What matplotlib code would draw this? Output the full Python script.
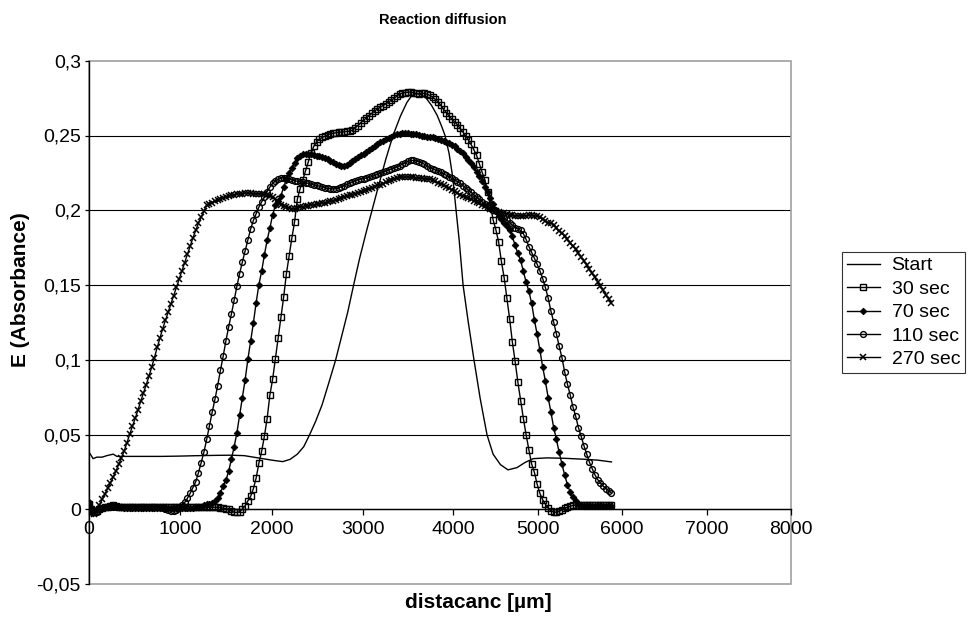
import numpy as np
import matplotlib.pyplot as plt
from matplotlib.patches import Rectangle

plt.rcParams['font.family'] = ['Liberation Sans', 'DejaVu Sans']

########################################################################
# data (distance in um, absorbance)

# x of the marker series: evenly spaced up to 3000 um, then read marker by marker
dist = list(range(0, 3000, 30)) + [
    3005, 3035, 3066, 3097, 3127, 3158, 3189, 3220, 3250, 3281,
    3312, 3342, 3373, 3404, 3434, 3465, 3496, 3526, 3557, 3588,
    3618, 3649, 3680, 3710, 3741, 3772, 3802, 3833, 3864, 3894,
    3925, 3956, 3987, 4018, 4051, 4083, 4116, 4149, 4181, 4214,
    4246, 4279, 4311, 4344, 4377, 4409, 4442, 4474, 4507, 4539,
    4572, 4605, 4637, 4670, 4702, 4735, 4767, 4800, 4833, 4865,
    4898, 4930, 4963, 4995, 5028, 5061, 5093, 5126, 5158, 5191,
    5223, 5256, 5289, 5321, 5354, 5386, 5419, 5451, 5484, 5517,
    5549, 5582, 5614, 5647, 5679, 5712, 5745, 5777, 5810, 5842,
    5875]

start_x = [0, 50, 90, 150, 200, 270, 310, 400, 600, 800,
           1000, 1200, 1400, 1550, 1700, 1850, 2000, 2120, 2200, 2280,
           2350, 2414, 2480, 2550, 2620, 2698, 2760, 2830, 2894, 2960,
           3035, 3097, 3168, 3250, 3331, 3414, 3485, 3537, 3588, 3639,
           3700, 3762, 3823, 3874, 3911, 3956, 3997, 4036, 4073, 4119,
           4181, 4248, 4322, 4402, 4474, 4561, 4650, 4757, 4854, 4950,
           5115, 5332, 5549, 5712, 5875]
start_y = [0.039, 0.034, 0.035, 0.035, 0.036, 0.037, 0.0355, 0.0355, 0.0355, 0.0355,
           0.0357, 0.036, 0.0362, 0.0363, 0.036, 0.0345, 0.033, 0.032, 0.0335, 0.037,
           0.042, 0.05, 0.059, 0.07, 0.084, 0.1, 0.115, 0.132, 0.15, 0.168,
           0.186, 0.2, 0.216, 0.234, 0.25, 0.263, 0.272, 0.2765, 0.278, 0.2775,
           0.275, 0.27, 0.2635, 0.256, 0.25, 0.238, 0.222, 0.2, 0.18, 0.15,
           0.125, 0.1, 0.074, 0.05, 0.037, 0.03, 0.0265, 0.028, 0.0315, 0.034,
           0.0345, 0.0342, 0.0336, 0.033, 0.0318]

sec30 = [0.004, 0.0, -0.002, -0.001, 0.0005, 0.001, 0.0015, 0.002, 0.0025, 0.003,
         0.0025, 0.002, 0.0015, 0.0015, 0.0015, 0.0015, 0.0015, 0.0015, 0.0015, 0.0015,
         0.0015, 0.0015, 0.0015, 0.0015, 0.0015, 0.0015, 0.0015, 0.0015, 0.0015, 0.0015,
         0.0015, 0.0015, 0.0015, 0.0015, 0.0015, 0.0015, 0.0015, 0.0015, 0.0015, 0.0015,
         0.0015, 0.0015, 0.0015, 0.0015, 0.0015, 0.0015, 0.0015, 0.0015, 0.0012, 0.001,
         0.0005, 0.0, -0.001, -0.0018, -0.002, -0.0015, 0.0003, 0.0025, 0.0058, 0.0088,
         0.014, 0.021, 0.031, 0.0388, 0.049, 0.0608, 0.0765, 0.0871, 0.1007, 0.1145,
         0.1284, 0.1418, 0.1575, 0.1695, 0.1815, 0.1925, 0.2075, 0.2145, 0.2205, 0.2265,
         0.2325, 0.2385, 0.2428, 0.2457, 0.2475, 0.2487, 0.2495, 0.2505, 0.2512, 0.2515,
         0.2518, 0.2521, 0.2523, 0.2525, 0.2527, 0.2529, 0.2535, 0.255, 0.2566, 0.2584,
         0.2603, 0.2618, 0.2633, 0.2649, 0.2664, 0.2677, 0.2689, 0.27, 0.2711, 0.2723,
         0.2735, 0.2748, 0.2763, 0.2777, 0.2783, 0.2787, 0.2789, 0.279, 0.2786, 0.2781,
         0.278, 0.2782, 0.2781, 0.2776, 0.2768, 0.2757, 0.2742, 0.2724, 0.2702, 0.2676,
         0.2653, 0.263, 0.261, 0.2592, 0.2572, 0.2548, 0.2523, 0.2499, 0.2471, 0.244,
         0.2405, 0.2367, 0.2312, 0.2255, 0.2204, 0.2122, 0.2035, 0.1937, 0.187, 0.179,
         0.166, 0.155, 0.1415, 0.1275, 0.112, 0.099, 0.0853, 0.0728, 0.0607, 0.05,
         0.0398, 0.0305, 0.0248, 0.017, 0.0108, 0.0065, 0.0035, 0.001, -0.001, -0.0017,
         -0.0018, -0.0012, -0.0003, 0.0008, 0.0015, 0.0022, 0.0027, 0.003, 0.0032, 0.0033,
         0.0033, 0.0032, 0.0032, 0.0031, 0.003, 0.003, 0.0029, 0.0029, 0.0028, 0.0028,
         0.0028]

sec70 = [0.005, 0.001, -0.001, 0.0, 0.001, 0.0012, 0.0015, 0.002, 0.0025, 0.003,
         0.0025, 0.002, 0.0015, 0.0012, 0.0012, 0.0012, 0.0012, 0.0012, 0.0012, 0.0012,
         0.0012, 0.0012, 0.0012, 0.0012, 0.0012, 0.0012, 0.0012, 0.0012, 0.0012, 0.0012,
         0.0012, 0.0012, 0.0012, 0.0012, 0.0012, 0.0012, 0.0012, 0.0012, 0.0013, 0.0014,
         0.0015, 0.002, 0.0028, 0.0035, 0.004, 0.0042, 0.0055, 0.0076, 0.0112, 0.0157,
         0.0196, 0.0255, 0.0336, 0.0419, 0.0513, 0.0632, 0.0747, 0.0868, 0.1005, 0.1125,
         0.1247, 0.1383, 0.1503, 0.1593, 0.1701, 0.18, 0.1882, 0.1968, 0.2035, 0.206,
         0.2095, 0.2155, 0.2205, 0.2248, 0.2286, 0.2318, 0.2348, 0.2365, 0.2374, 0.2378,
         0.2377, 0.2374, 0.237, 0.2366, 0.236, 0.2354, 0.2347, 0.234, 0.233, 0.2321,
         0.2311, 0.2303, 0.2297, 0.2293, 0.2302, 0.2316, 0.233, 0.2343, 0.2355, 0.2367,
         0.2379, 0.2391, 0.2404, 0.2416, 0.2428, 0.2441, 0.2454, 0.2466, 0.2476, 0.2485,
         0.2493, 0.2501, 0.2507, 0.2512, 0.2515, 0.2516, 0.2515, 0.2513, 0.251, 0.2507,
         0.2504, 0.25, 0.2496, 0.2493, 0.249, 0.2489, 0.2485, 0.2479, 0.2473, 0.2466,
         0.2458, 0.2449, 0.2439, 0.2427, 0.2413, 0.2397, 0.238, 0.2358, 0.2336, 0.2315,
         0.2288, 0.2258, 0.2228, 0.2199, 0.2158, 0.212, 0.2083, 0.2045, 0.2005, 0.1965,
         0.194, 0.1918, 0.1895, 0.187, 0.1825, 0.1765, 0.1712, 0.1665, 0.1592, 0.152,
         0.1458, 0.138, 0.1267, 0.1172, 0.1065, 0.0953, 0.0858, 0.0748, 0.0653, 0.0548,
         0.047, 0.0382, 0.0305, 0.023, 0.0166, 0.0117, 0.0083, 0.0057, 0.0038, 0.0028,
         0.0025, 0.0025, 0.0025, 0.0025, 0.0025, 0.0024, 0.0024, 0.0024, 0.0024, 0.0024,
         0.0024]

sec110 = [0.003, -0.001, -0.002, -0.0015, 0.0, 0.001, 0.0015, 0.0015, 0.0015, 0.0015,
          0.0015, 0.0015, 0.0015, 0.0015, 0.0015, 0.0015, 0.0015, 0.0015, 0.0015, 0.0015,
          0.0015, 0.0015, 0.0015, 0.0015, 0.0015, 0.0015, 0.0015, 0.0012, 0.0005, -0.0005,
          -0.001, -0.001, -0.0003, 0.0012, 0.003, 0.0047, 0.0075, 0.0108, 0.0146, 0.0185,
          0.0245, 0.0313, 0.0384, 0.0468, 0.056, 0.065, 0.0736, 0.0828, 0.093, 0.1025,
          0.1127, 0.122, 0.1307, 0.1398, 0.1493, 0.1577, 0.1656, 0.173, 0.1803, 0.1875,
          0.1932, 0.1977, 0.2021, 0.2056, 0.209, 0.2125, 0.2155, 0.218, 0.2195, 0.2207,
          0.2214, 0.2219, 0.2219, 0.2212, 0.2203, 0.2198, 0.2194, 0.2191, 0.2188, 0.2184,
          0.218, 0.2175, 0.217, 0.2166, 0.2161, 0.2156, 0.2151, 0.2146, 0.2144, 0.2143,
          0.2144, 0.2149, 0.2157, 0.2165, 0.2173, 0.218, 0.2188, 0.2197, 0.2203, 0.2208,
          0.2212, 0.2216, 0.222, 0.2226, 0.2233, 0.224, 0.2248, 0.2255, 0.2262, 0.2269,
          0.2275, 0.2282, 0.2289, 0.2298, 0.2308, 0.2318, 0.2327, 0.2333, 0.2334, 0.2331,
          0.2325, 0.2318, 0.2308, 0.2297, 0.2286, 0.2277, 0.227, 0.2262, 0.2254, 0.2244,
          0.2234, 0.2224, 0.2214, 0.2203, 0.2192, 0.2181, 0.2165, 0.215, 0.2135, 0.212,
          0.2104, 0.2089, 0.2073, 0.2057, 0.2042, 0.2026, 0.2015, 0.2005, 0.1995, 0.198,
          0.1965, 0.195, 0.1935, 0.1918, 0.19, 0.1885, 0.1875, 0.1865, 0.1843, 0.1805,
          0.1758, 0.172, 0.168, 0.164, 0.1595, 0.1544, 0.1484, 0.1413, 0.1328, 0.1252,
          0.1175, 0.1092, 0.1015, 0.092, 0.0838, 0.0768, 0.0686, 0.0625, 0.0547, 0.0488,
          0.0427, 0.037, 0.0316, 0.0273, 0.0232, 0.02, 0.0177, 0.0157, 0.014, 0.0125,
          0.011]

sec270 = [0.002, -0.003, -0.003, -0.001, 0.003, 0.0068, 0.0105, 0.0142, 0.0179, 0.0216,
          0.0258, 0.0301, 0.0345, 0.0392, 0.0447, 0.0503, 0.0558, 0.0609, 0.0667, 0.0723,
          0.0779, 0.0834, 0.089, 0.0952, 0.1016, 0.1083, 0.1146, 0.1209, 0.1265, 0.1319,
          0.1375, 0.143, 0.1485, 0.154, 0.1595, 0.165, 0.1705, 0.176, 0.1816, 0.1865,
          0.1914, 0.1953, 0.1995, 0.2035, 0.2043, 0.2052, 0.206, 0.2068, 0.2077, 0.2083,
          0.2088, 0.2093, 0.2099, 0.2104, 0.2107, 0.211, 0.2112, 0.2114, 0.2115, 0.2114,
          0.2112, 0.2111, 0.211, 0.2109, 0.2107, 0.2105, 0.2097, 0.2089, 0.2073, 0.2055,
          0.2038, 0.2029, 0.2021, 0.2015, 0.2011, 0.201, 0.2015, 0.2021, 0.2025, 0.2028,
          0.2031, 0.2034, 0.2037, 0.204, 0.2043, 0.2047, 0.2051, 0.2056, 0.2061, 0.2065,
          0.2071, 0.2076, 0.2082, 0.2088, 0.2093, 0.2099, 0.2105, 0.2111, 0.2117, 0.2123,
          0.213, 0.2138, 0.2145, 0.2152, 0.2159, 0.2166, 0.2172, 0.2179, 0.2186, 0.2193,
          0.22, 0.2207, 0.2213, 0.222, 0.2222, 0.2223, 0.2223, 0.2222, 0.222, 0.2218,
          0.2216, 0.2214, 0.2212, 0.221, 0.2207, 0.2201, 0.2193, 0.2185, 0.2177, 0.2168,
          0.2159, 0.2148, 0.2137, 0.2126, 0.2115, 0.2105, 0.2097, 0.209, 0.2082, 0.2073,
          0.2064, 0.2055, 0.2046, 0.2037, 0.2028, 0.202, 0.2012, 0.2004, 0.1997, 0.199,
          0.1984, 0.1979, 0.1974, 0.197, 0.1967, 0.1965, 0.1964, 0.1964, 0.1964, 0.1965,
          0.1966, 0.1966, 0.1964, 0.196, 0.1952, 0.1942, 0.1928, 0.1918, 0.1912, 0.1905,
          0.1885, 0.1862, 0.1845, 0.1825, 0.1805, 0.1783, 0.176, 0.1738, 0.1712, 0.1688,
          0.1662, 0.1635, 0.1605, 0.1578, 0.1552, 0.1522, 0.1493, 0.1465, 0.1436, 0.1408,
          0.1378]

x_ticks = [0, 1000, 2000, 3000, 4000, 5000, 6000, 7000, 8000]
y_ticks = [-0.05, 0, 0.05, 0.1, 0.15, 0.2, 0.25, 0.3]
y_labels = ['-0,05', '0', '0,05', '0,1', '0,15', '0,2', '0,25', '0,3']

########################################################################
# the x axis of the original is not quite even: the ticks from 4000 on
# sit closer together than those below 3000
knot_um = [0, 3000, 4000, 8000]
knot_frac = [0, 0.3912, 0.5189, 1]


def x_forward(v):
    return np.interp(v, knot_um, knot_frac)


def x_inverse(f):
    return np.interp(f, knot_frac, knot_um)


fig = plt.figure(figsize=(9.71, 6.18), dpi=100)
ax = fig.add_axes([88.5 / 971, 1 - 584.3 / 618, (791 - 88.5) / 971, (584.3 - 60.7) / 618])
ax.set_xscale('function', functions=(x_forward, x_inverse))

for y in y_ticks[1:-1]:
    ax.axhline(y, color='black', lw=0.8, zorder=0)

ax.plot(start_x, start_y, color='black', lw=1.0, label='Start')
ax.plot(dist, sec30, color='black', lw=1.0, marker='s', ms=4.0, mfc='none',
        mec='black', mew=1.0, label='30 sec')
ax.plot(dist, sec70, color='black', lw=1.0, marker='D', ms=3.4, mfc='black',
        mec='black', mew=0.6, label='70 sec')
ax.plot(dist, sec110, color='black', lw=1.0, marker='o', ms=4.2, mfc='none',
        mec='black', mew=1.0, label='110 sec')
ax.plot(dist, sec270, color='black', lw=1.0, marker='x', ms=4.5, mew=1.1,
        label='270 sec')

ax.set_xlim(0, 8000)
ax.set_ylim(-0.05, 0.3)
ax.set_xticks(x_ticks)
ax.set_xticklabels([str(t) for t in x_ticks])
ax.xaxis.set_minor_locator(plt.NullLocator())
ax.set_yticks(y_ticks)
ax.set_yticklabels(y_labels)

# x axis sits on y = 0, grey frame round the plot area
for side in ['top', 'right']:
    ax.spines[side].set_visible(False)
ax.spines['bottom'].set_position(('data', 0))
ax.spines['bottom'].set_color('black')
ax.spines['left'].set_color('black')
ax.spines['bottom'].set_linewidth(1.0)
ax.spines['left'].set_linewidth(1.0)
ax.add_patch(Rectangle((0, 0), 1, 1, transform=ax.transAxes, fill=False,
                       edgecolor='#a0a0a0', lw=1.2, clip_on=False, zorder=0.5))

ax.tick_params(axis='x', length=4, width=0.9, pad=4, labelsize=14)
ax.tick_params(axis='y', length=3, width=0.9, pad=2.5, labelsize=14)

fig.text(443 / 971, 1 - 20 / 618, 'Reaction diffusion', ha='center', va='center',
         fontsize=10.5, fontweight='bold')
fig.text(478 / 971, 1 - 603 / 618, 'distacanc [µm]', ha='center', va='center',
         fontsize=15, fontweight='bold')
fig.text(21 / 971, 1 - 290 / 618, 'E (Absorbance)', ha='center', va='center',
         rotation=90, fontsize=15, fontweight='bold')

leg = ax.legend(loc='upper left', bbox_to_anchor=(842 / 971, 1 - 252 / 618),
                bbox_transform=fig.transFigure, fontsize=14, frameon=True,
                fancybox=False, edgecolor='black', labelspacing=0.3,
                borderpad=0.25, handlelength=1.7, handletextpad=0.6,
                borderaxespad=0)
leg.get_frame().set_linewidth(0.8)

fig.savefig('out.png', dpi=100)
